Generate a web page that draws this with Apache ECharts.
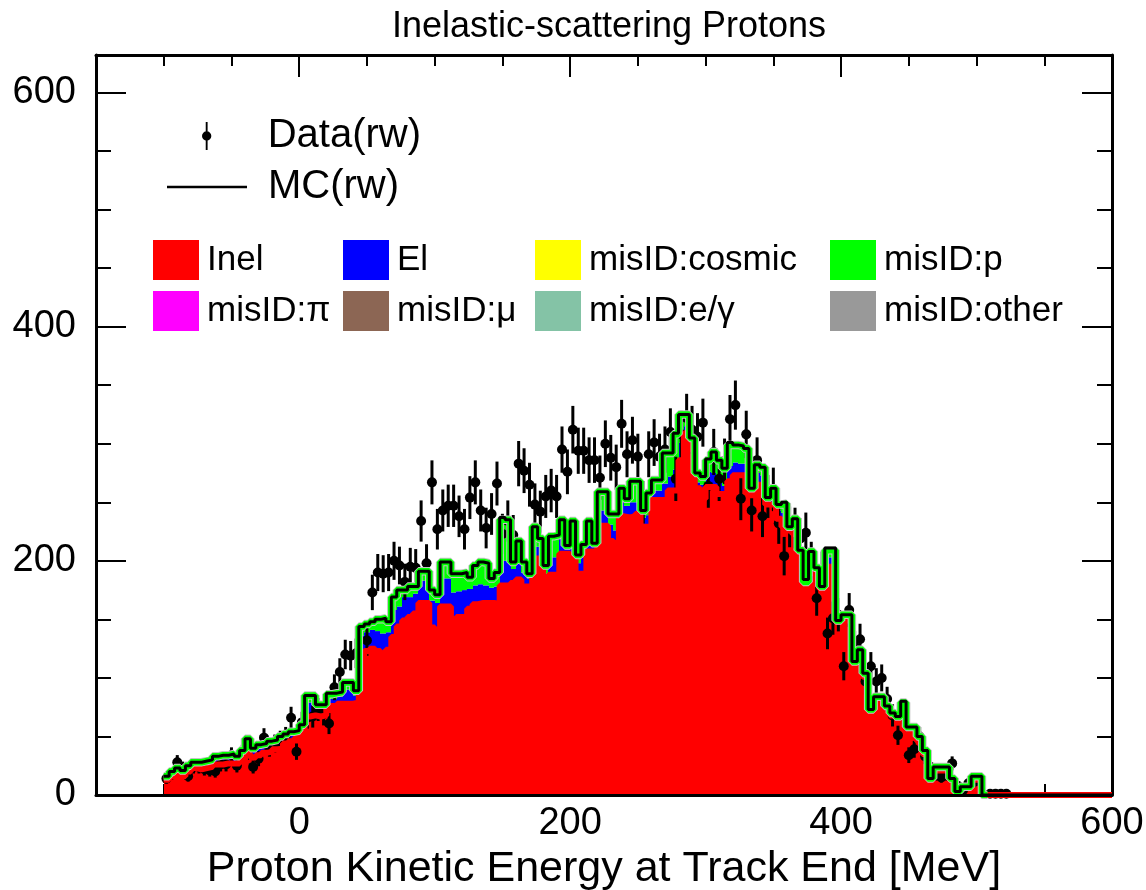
<!DOCTYPE html>
<html><head><meta charset="utf-8">
<script src="https://cdn.jsdelivr.net/npm/echarts@6/dist/echarts.min.js"></script>
<style>html,body{margin:0;padding:0;background:#fff}#c{width:1146px;height:890px}</style>
</head><body><div id="c"></div>
<script>
// ---- binning / axis ranges ----
const BIN_START = -100;   // lower edge of first bin [MeV]
const BIN_WIDTH = 4;      // bin width [MeV]
const X_MIN = -150, X_MAX = 600, Y_MIN = 0, Y_MAX = 632;
const xTickLabels = [0, 200, 400, 600];
const xMinorTicks = [-100, -50, 50, 100, 150, 250, 300, 350, 450, 500, 550];
const yTickLabels = [0, 200, 400, 600];
const yMinorTicks = [50, 100, 150, 250, 300, 350, 450, 500, 550];

// ---- MC stack (events per bin) ----
const inel = [13,16,19,16,20,23,22,23,24,26, 26,27,27,27,29,35,32,34,36,37,
  39,40,44,46,48,52,67,68,67,68, 76,76,78,78,78,79,118,123,125,123,
  121,124,135,144,149,152,155,164,164,143, 141,161,161,149,152,152,159,163,164,164,
  164,163,179,179,181,184,178,178,202,202, 181,188,188,206,206,203,189,189,208,208,
  230,230,217,212,238,237,238,240,229,229, 252,252,252,260,260,286,309,295,262,253,
  263,263,257,257,268,273,273,273,256,265, 265,248,248,236,229,226,223,203,180,195,
  188,176,195,195,148,149,149,108,119,101, 72,82,81,75,68,66,77,55,54,46,
  35,13,21,21,21,13,3,7,6,13,13,
  0,0,0,0,0,0,0,0,0,0,0,0,0,0,0,0,0,0,0,0,0,0,0,0];
const el = [2,2,2,3,3,3,4,3,4,4, 5,4,5,4,6,8,5,6,5,6,
  5,6,5,5,4,5,12,11,6,5, 6,6,6,12,12,6,18,16,16,17,
  17,15,23,17,20,17,17,19,19,23, 23,24,24,24,22,23,17,16,16,15,
  13,15,21,21,12,14,12,7,10,10, 8,15,15,13,4,9,9,14,6,5,
  13,13,14,14,12,10,12,10,8,10, 8,8,14,12,18,15,6,5,5,12,
  13,12,10,7,13,11,10,10,3,10, 8,3,9,7,12,2,7,3,1,8,
  3,0,8,8,0,2,2,3,2,1, 0,0,1,0,1,0,0,1,2,2,
  1,0,1,1,1,0,0,0,0,0,0,
  0,0,0,0,0,0,0,0,0,0,0,0,0,0,0,0,0,0,0,0,0,0,0,0];
const misidP = [1,2,2,2,2,2,2,3,2,3, 3,3,3,2,3,5,3,3,3,3,
  3,4,3,3,3,3,6,6,4,4, 4,5,4,6,6,4,8,7,7,10,
  13,9,11,14,6,9,6,8,8,9, 7,14,14,16,15,15,10,17,19,19,
  8,12,35,35,6,19,9,4,17,7, 7,18,19,16,3,22,7,11,20,2,
  16,16,9,14,12,6,18,18,6,19, 9,9,26,20,30,24,10,5,8,7,
  10,18,19,15,18,15,15,13,3,7, 7,3,5,5,8,1,6,3,1,5,
  3,2,6,6,1,3,3,3,3,2, 1,2,2,1,1,1,2,2,2,2,
  2,1,2,2,2,1,0,0,1,3,3,
  0,0,0,0,0,0,0,0,0,0,0,0,0,0,0,0,0,0,0,0,0,0,0,0];
// small components given as [bin index, events]
const misidPi = [[62,1],[104,2],[114,1],[118,2],[122,2],[123,2],[136,1]];
const misidOther = [[30,1],[62,1],[94,1],[100,1]];

// ---- data (events per bin, null = empty) ----
const dataRw = [14,18,28,23,16,24,24,22,21,20, 26,26,34,25,36,37,24,31,49,40,
  44,47,50,66,37,62,66,67,73,69, 61,92,105,120,119,121,120,132,173,190,
  189,190,200,196,182,195,194,234,198,267, 227,243,247,247,238,227,254,267,243,228,
  240,266,223,234,222,283,277,265,248,242, 255,260,255,295,276,312,294,294,286,286,
  271,300,288,280,317,291,303,289,250,291, 301,289,295,310,270,308,322,312,306,318,
  264,293,270,285,321,333,253,308,243,286, 238,255,261,232,204,229,228,219,224,200,
  168,192,138,151,154,110,158,127,133,97, 110,97,100,82,68,51,70,34,39,50,
  33,24,17,15,17,27,8,4,10,11,12, null,1,1,1,1];
const ERR_SCALE = 1.15; // reweighted data: error ≈ 1.15·√N

const COLORS = {inel:'#ff0000', el:'#0000ff', cosmic:'#ffff00', p:'#00ff00',
  pi:'#ff00ff', mu:'#8c6654', eg:'#84c3a6', other:'#999999'};
const FONT = '"Liberation Sans", Arial, Helvetica, sans-serif';

// ---- derived layers ----
const nBins = inel.length;
const edges = Array.from({length: nBins + 1}, (_, i) => BIN_START + i * BIN_WIDTH);
function sparse(pairs){ const a = new Array(nBins).fill(0); pairs.forEach(([i, v]) => { a[i] = v; }); return a; }
const piArr = sparse(misidPi), otherArr = sparse(misidOther);
function addArr(a, b){ return a.map((v, i) => v + b[i]); }
const zero = new Array(nBins).fill(0);
const cInel = inel.slice();
const cEl = addArr(cInel, el);
const cP = addArr(cEl, misidP);
const cPi = addArr(cP, piArr);
const cOther = addArr(cPi, otherArr);
const total = cOther;
function stepData(arr){ const d = arr.map((v, i) => [edges[i], v]); d.push([edges[nBins], arr[nBins - 1]]); return d; }
let lastNZ = 0; cP.forEach((v, i) => { if (v > 0) lastNZ = i; });
const haloData = cP.map((v, i) => [edges[i], i <= lastNZ + 1 ? v : null]);
const dataPts = [];
dataRw.forEach((v, i) => { if (v != null) dataPts.push([(edges[i] + edges[i + 1]) / 2, v, Math.sqrt(v) * ERR_SCALE]); });

function layerSeries(name, color, lower, upper){
  const items = [];
  upper.forEach((u, i) => { if (u > lower[i]) items.push([edges[i], edges[i + 1], lower[i], u]); });
  return {type:'custom', name, color, silent:true, clip:true, encode:{x:[0, 1], y:[2, 3]},
    itemStyle:{color},
    renderItem:(params, api) => {
      const a = api.coord([api.value(0), api.value(3)]);
      const b = api.coord([api.value(1), api.value(2)]);
      const x0 = Math.round(a[0]), x1 = Math.round(b[0]);
      return {type:'rect', shape:{x:x0, y:a[1], width:x1 - x0, height:b[1] - a[1]},
        style:{fill:color}};
    },
    data: items};
}
function emptySeries(name, color){ return {type:'custom', name, color, itemStyle:{color}, data:[], renderItem:() => null}; }

function fillLegend(name, color, left, top){
  return {data:[name], left, top, padding:0, itemWidth:46, itemHeight:40, icon:'rect', selectedMode:false,
    itemStyle:{color, borderWidth:0},
    formatter: n => '{sp| }' + n,
    textStyle:{fontSize:35, color:'#000', fontFamily:FONT, rich:{sp:{width:3, fontSize:35}}}};
}

const tickLine = {color:'#000', width:2};
function xTickAxis(pos, values, len, showLine){
  return {type:'value', min:X_MIN, max:X_MAX, position:pos,
    axisLine:{show:!!showLine, onZero:false, lineStyle:{color:'#000', width:3}},
    axisTick:{show:true, inside:true, length:len, customValues:values, lineStyle:tickLine},
    axisLabel:{show:false}, splitLine:{show:false}};
}
function yTickAxis(pos, values, len, showLine){
  return {type:'value', min:Y_MIN, max:Y_MAX, position:pos,
    axisLine:{show:!!showLine, onZero:false, lineStyle:{color:'#000', width:3}},
    axisTick:{show:true, inside:true, length:len, customValues:values, lineStyle:tickLine},
    axisLabel:{show:false}, splitLine:{show:false}};
}

const option = {
  animation:false,
  backgroundColor:'#fff',
  title:{text:'Inelastic-scattering Protons', left:604, top:4, textAlign:'center',
    textStyle:{fontSize:36, fontWeight:'normal', color:'#000', fontFamily:FONT}},
  grid:{left:96, right:34, top:55, bottom:95, show:false, containLabel:false, outerBoundsMode:'none'},
  xAxis:[
    {type:'value', min:X_MIN, max:X_MAX, position:'bottom', z:10,
      axisLine:{show:true, onZero:false, lineStyle:{color:'#000', width:3}},
      axisTick:{show:false}, splitLine:{show:false},
      axisLabel:{customValues:xTickLabels, fontSize:38, color:'#000', fontFamily:FONT, margin:10},
      name:'Proton Kinetic Energy at Track End [MeV]', nameLocation:'middle', nameGap:50,
      nameTextStyle:{fontSize:43, color:'#000', fontFamily:FONT}},
    xTickAxis('bottom', xTickLabels, 22, false),
    xTickAxis('bottom', xMinorTicks, 11, false),
    xTickAxis('top', xTickLabels, 22, true),
    xTickAxis('top', xMinorTicks, 11, false)
  ],
  yAxis:[
    {type:'value', min:Y_MIN, max:Y_MAX, position:'left',
      axisLine:{show:true, onZero:false, lineStyle:{color:'#000', width:3}},
      axisTick:{show:true, inside:true, length:30, customValues:yTickLabels, lineStyle:tickLine},
      axisLabel:{customValues:yTickLabels, fontSize:38, color:'#000', fontFamily:FONT, margin:20},
      splitLine:{show:false}},
    yTickAxis('left', yMinorTicks, 15, false),
    yTickAxis('right', yTickLabels, 30, true),
    yTickAxis('right', yMinorTicks, 15, false)
  ],
  legend:[
    {data:['Data(rw)'], left:202, top:116, padding:0, itemWidth:10, itemHeight:28, selectedMode:false,
      icon:'path://M4,0 L6,0 L6,11 L4,11 Z M4,19 L6,19 L6,30 L4,30 Z M5,10 A5,5 0 1 1 5,20 A5,5 0 1 1 5,10 Z',
      itemStyle:{color:'#000', borderWidth:0, opacity:1},
      formatter: n => '{sp| }' + n,
      textStyle:{fontSize:40, color:'#000', fontFamily:FONT, rich:{sp:{width:51, fontSize:40}}}},
    {data:['MC(rw)'], left:167, top:167, padding:0, itemWidth:80, itemHeight:2.5, selectedMode:false,
      icon:'rect', itemStyle:{color:'#000', borderWidth:0},
      formatter: n => '{sp| }' + n,
      textStyle:{fontSize:40, color:'#000', fontFamily:FONT, rich:{sp:{width:16, fontSize:40}}}},
    fillLegend('Inel', COLORS.inel, 153, 240),
    fillLegend('El', COLORS.el, 343, 240),
    fillLegend('misID:cosmic', COLORS.cosmic, 535, 240),
    fillLegend('misID:p', COLORS.p, 830, 240),
    fillLegend('misID:π', COLORS.pi, 153, 291),
    fillLegend('misID:μ', COLORS.mu, 343, 291),
    fillLegend('misID:e/γ', COLORS.eg, 535, 291),
    fillLegend('misID:other', COLORS.other, 830, 291)
  ],
  series:[
    layerSeries('Inel', COLORS.inel, zero, cInel),
    {type:'line', name:'inelOutline', step:'end', symbol:'none', silent:true,
      lineStyle:{width:6, color:COLORS.inel}, data:stepData(cInel)},
    layerSeries('El', COLORS.el, cInel, cEl),
    layerSeries('misID:p', COLORS.p, cEl, cP),
    {type:'line', name:'otherOutline', step:'end', symbol:'none', silent:true,
      lineStyle:{width:8.5, color:'#c4c4c4'}, data:haloData},
    {type:'line', name:'pOutline', step:'end', symbol:'none', silent:true,
      lineStyle:{width:6.5, color:COLORS.p}, data:haloData},
    layerSeries('misID:π', COLORS.pi, cP, cPi),
    layerSeries('misID:other', COLORS.other, cPi, cOther),
    emptySeries('misID:cosmic', COLORS.cosmic),
    emptySeries('misID:μ', COLORS.mu),
    emptySeries('misID:e/γ', COLORS.eg),
    {type:'line', name:'MC(rw)', step:'end', symbol:'none', silent:true, color:'#000',
      lineStyle:{width:3, color:'#000'}, data:stepData(total)},
    {type:'custom', name:'dataErr', silent:true, clip:true,
      renderItem:(params, api) => {
        const x = api.value(0), y = api.value(1), e = api.value(2);
        const p1 = api.coord([x, Math.max(Y_MIN, y - e)]), p2 = api.coord([x, y + e]);
        return {type:'line', shape:{x1:p1[0], y1:p1[1], x2:p2[0], y2:p2[1]}, style:{stroke:'#000', lineWidth:3}};
      },
      encode:{x:0, y:1}, data:dataPts},
    {type:'scatter', name:'Data(rw)', symbol:'circle', symbolSize:10, color:'#000', silent:true,
      itemStyle:{color:'#000', opacity:1}, data:dataPts.map(d => [d[0], d[1]])}
  ]
};
echarts.init(document.getElementById('c')).setOption(option);
</script>
</body></html>
